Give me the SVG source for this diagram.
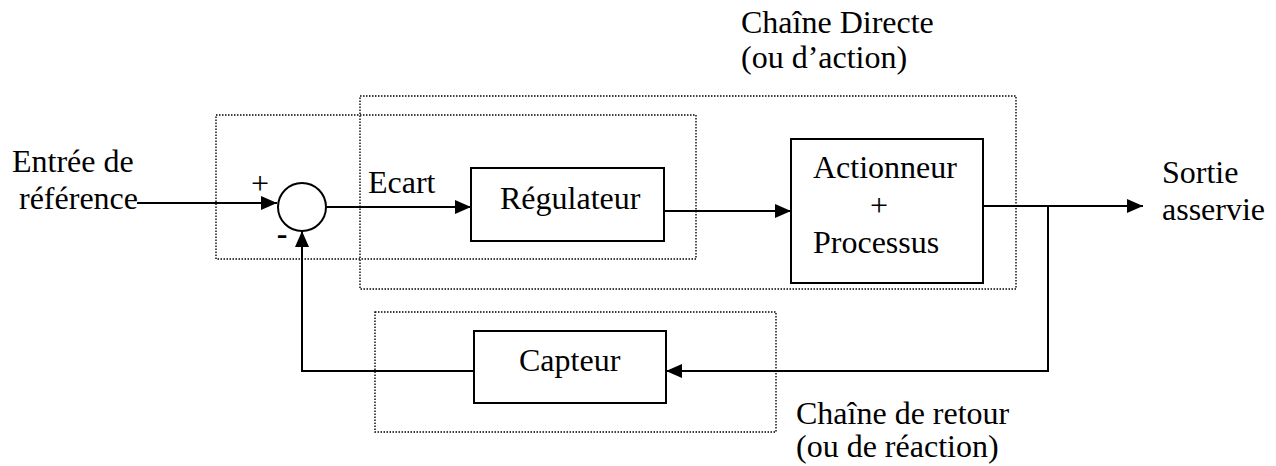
<svg xmlns="http://www.w3.org/2000/svg" width="1276" height="466" viewBox="0 0 1276 466">
  <style>
    text { font-family: "Liberation Serif", "Times New Roman", serif; font-size: 32px; fill: #000; }
    .blk { fill: #fff; stroke: #000; stroke-width: 2; }
    .grp { fill: none; stroke: #000; stroke-width: 1.4; stroke-dasharray: 1.5 1.5; }
    .wire { fill: none; stroke: #000; stroke-width: 2; }
  </style>
  <defs>
    <marker id="arr" markerUnits="userSpaceOnUse" markerWidth="16" markerHeight="14" refX="16" refY="7" orient="auto">
      <path d="M0,0 L16,7 L0,14 z" fill="#000"/>
    </marker>
  </defs>
  <rect width="1276" height="466" fill="#fff"/>

  <g id="groups">
    <rect id="grp-direct" class="grp" x="360" y="96" width="656" height="193"/>
    <rect id="grp-left" class="grp" x="216" y="115" width="480" height="144"/>
    <rect id="grp-retour" class="grp" x="375" y="312" width="401" height="120"/>
  </g>

  <g id="connectors">
    <path class="wire" d="M137,203 H277" marker-end="url(#arr)"/>
    <path class="wire" d="M326,207 H471" marker-end="url(#arr)"/>
    <path class="wire" d="M664,211 H791" marker-end="url(#arr)"/>
    <path class="wire" d="M983,206 H1143" marker-end="url(#arr)"/>
    <path class="wire" d="M1048,206 V371 H666" marker-end="url(#arr)"/>
    <path class="wire" d="M474,371 H302 V231" marker-end="url(#arr)"/>
  </g>

  <g id="sum">
    <circle class="blk" cx="302" cy="207" r="24"/>
    <text x="260" y="194" text-anchor="middle">+</text>
    <text x="282" y="244" text-anchor="middle" font-weight="bold">-</text>
  </g>

  <g id="regulateur">
    <rect class="blk" x="471" y="168" width="193" height="73"/>
    <text x="500" y="209">Régulateur</text>
  </g>

  <g id="actionneur">
    <rect class="blk" x="791" y="139" width="192" height="144"/>
    <text x="813" y="178">Actionneur</text>
    <text x="879" y="216" text-anchor="middle">+</text>
    <text x="813" y="253">Processus</text>
  </g>

  <g id="capteur">
    <rect class="blk" x="474" y="331" width="192" height="72"/>
    <text x="519" y="371">Capteur</text>
  </g>

  <g id="labels">
    <text x="12" y="172">Entrée de</text>
    <text x="19" y="209">référence</text>
    <text x="368" y="193">Ecart</text>
    <text x="1162" y="183">Sortie</text>
    <text x="1162" y="220">asservie</text>
    <text x="741" y="33">Chaîne Directe</text>
    <text x="741" y="68">(ou d’action)</text>
    <text x="796" y="424">Chaîne de retour</text>
    <text x="796" y="457">(ou de réaction)</text>
  </g>
</svg>
